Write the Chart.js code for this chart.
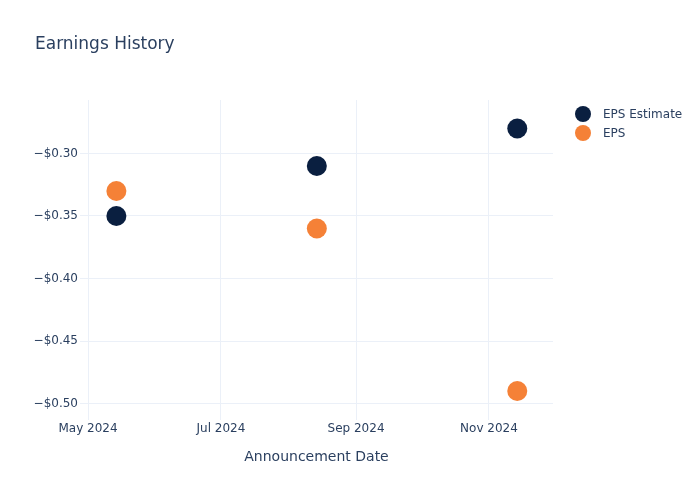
<!DOCTYPE html>
<html>
<head>
<meta charset="utf-8">
<script src="https://cdn.jsdelivr.net/npm/chart.js@4/dist/chart.umd.min.js"></script>
<style>
  html, body { margin: 0; padding: 0; background: #fff; }
  #wrap { width: 700px; height: 500px; position: relative; }
</style>
</head>
<body>
<div id="wrap"><canvas id="c" width="700" height="500"></canvas></div>
<script>
const announcementDates = ["2024-05-14", "2024-08-14", "2024-11-14"];
const epsEstimate = [-0.35, -0.31, -0.28];
const epsActual = [-0.33, -0.36, -0.49];
const xTickDates = ["2024-05-01", "2024-07-01", "2024-09-01", "2024-11-01"];
const xTickLabels = ["May 2024", "Jul 2024", "Sep 2024", "Nov 2024"];
const yTickValues = [-0.50, -0.45, -0.40, -0.35, -0.30];
const seriesNames = ["EPS Estimate", "EPS"];
const seriesColors = ["#0a1f40", "#f58137"];

const DAY = 86400000;
const ts = s => Date.parse(s + "T00:00:00Z");
const xMin = ts("2024-05-01") - 3.7 * DAY;
const xMax = ts("2024-11-01") + 29.4 * DAY;
const yMin = -0.5132;
const yMax = -0.2572;

const textColor = "#2a3f5f";
const gridColor = "#ebf0f8";
const FONT = "'DejaVu Sans', Verdana, sans-serif";

const mkData = vals => announcementDates.map((d, i) => ({ x: ts(d), y: vals[i] }));

const titleLegendPlugin = {
  id: "titleLegend",
  afterDraw(chart) {
    const ctx = chart.ctx;
    ctx.save();
    ctx.fillStyle = textColor;
    ctx.font = "17px " + FONT;
    ctx.textBaseline = "middle";
    ctx.textAlign = "left";
    ctx.fillText("Earnings History", 35, 45);
    ctx.font = "12px " + FONT;
    chart.data.datasets.forEach((ds, i) => {
      const y = 115 + i * 19;
      ctx.beginPath();
      ctx.arc(583, y - 1, 8, 0, Math.PI * 2);
      ctx.fillStyle = ds.backgroundColor;
      ctx.fill();
      ctx.fillStyle = textColor;
      ctx.fillText(ds.label, 603, y);
    });
    ctx.restore();
  }
};

new Chart(document.getElementById("c"), {
  type: "scatter",
  data: {
    datasets: [
      { label: seriesNames[0], data: mkData(epsEstimate), backgroundColor: seriesColors[0], borderColor: seriesColors[0], pointRadius: 10, pointHoverRadius: 10, borderWidth: 0 },
      { label: seriesNames[1], data: mkData(epsActual), backgroundColor: seriesColors[1], borderColor: seriesColors[1], pointRadius: 10, pointHoverRadius: 10, borderWidth: 0 }
    ]
  },
  options: {
    responsive: false,
    animation: false,
    devicePixelRatio: 1,
    layout: { padding: { top: 100, right: 147, left: 0, bottom: 30 } },
    plugins: {
      legend: { display: false },
      title: { display: false },
      tooltip: { enabled: false }
    },
    scales: {
      x: {
        type: "linear",
        min: xMin,
        max: xMax,
        afterBuildTicks: s => { s.ticks = xTickDates.map(d => ({ value: ts(d) })); },
        afterFit: s => { s.height = 50; },
        ticks: {
          color: textColor,
          font: { family: FONT, size: 12 },
          padding: 2,
          maxRotation: 0,
          autoSkip: false,
          callback: (v) => { const i = xTickDates.findIndex(d => ts(d) === v); return i >= 0 ? xTickLabels[i] : ""; }
        },
        grid: { color: gridColor, lineWidth: 1, drawTicks: false },
        border: { display: false },
        title: {
          display: true,
          text: "Announcement Date",
          color: textColor,
          font: { family: FONT, size: 14 },
          padding: { top: 4, bottom: 4 }
        }
      },
      y: {
        type: "linear",
        min: yMin,
        max: yMax,
        afterBuildTicks: s => { s.ticks = yTickValues.map(v => ({ value: v })); },
        afterFit: s => { s.width = 80; },
        ticks: {
          color: textColor,
          font: { family: FONT, size: 12 },
          padding: 2,
          callback: v => (v < 0 ? "\u2212" : "") + "$" + Math.abs(v).toFixed(2)
        },
        grid: { color: gridColor, lineWidth: 1, drawTicks: false },
        border: { display: false }
      }
    }
  },
  plugins: [titleLegendPlugin]
});
</script>
</body>
</html>
